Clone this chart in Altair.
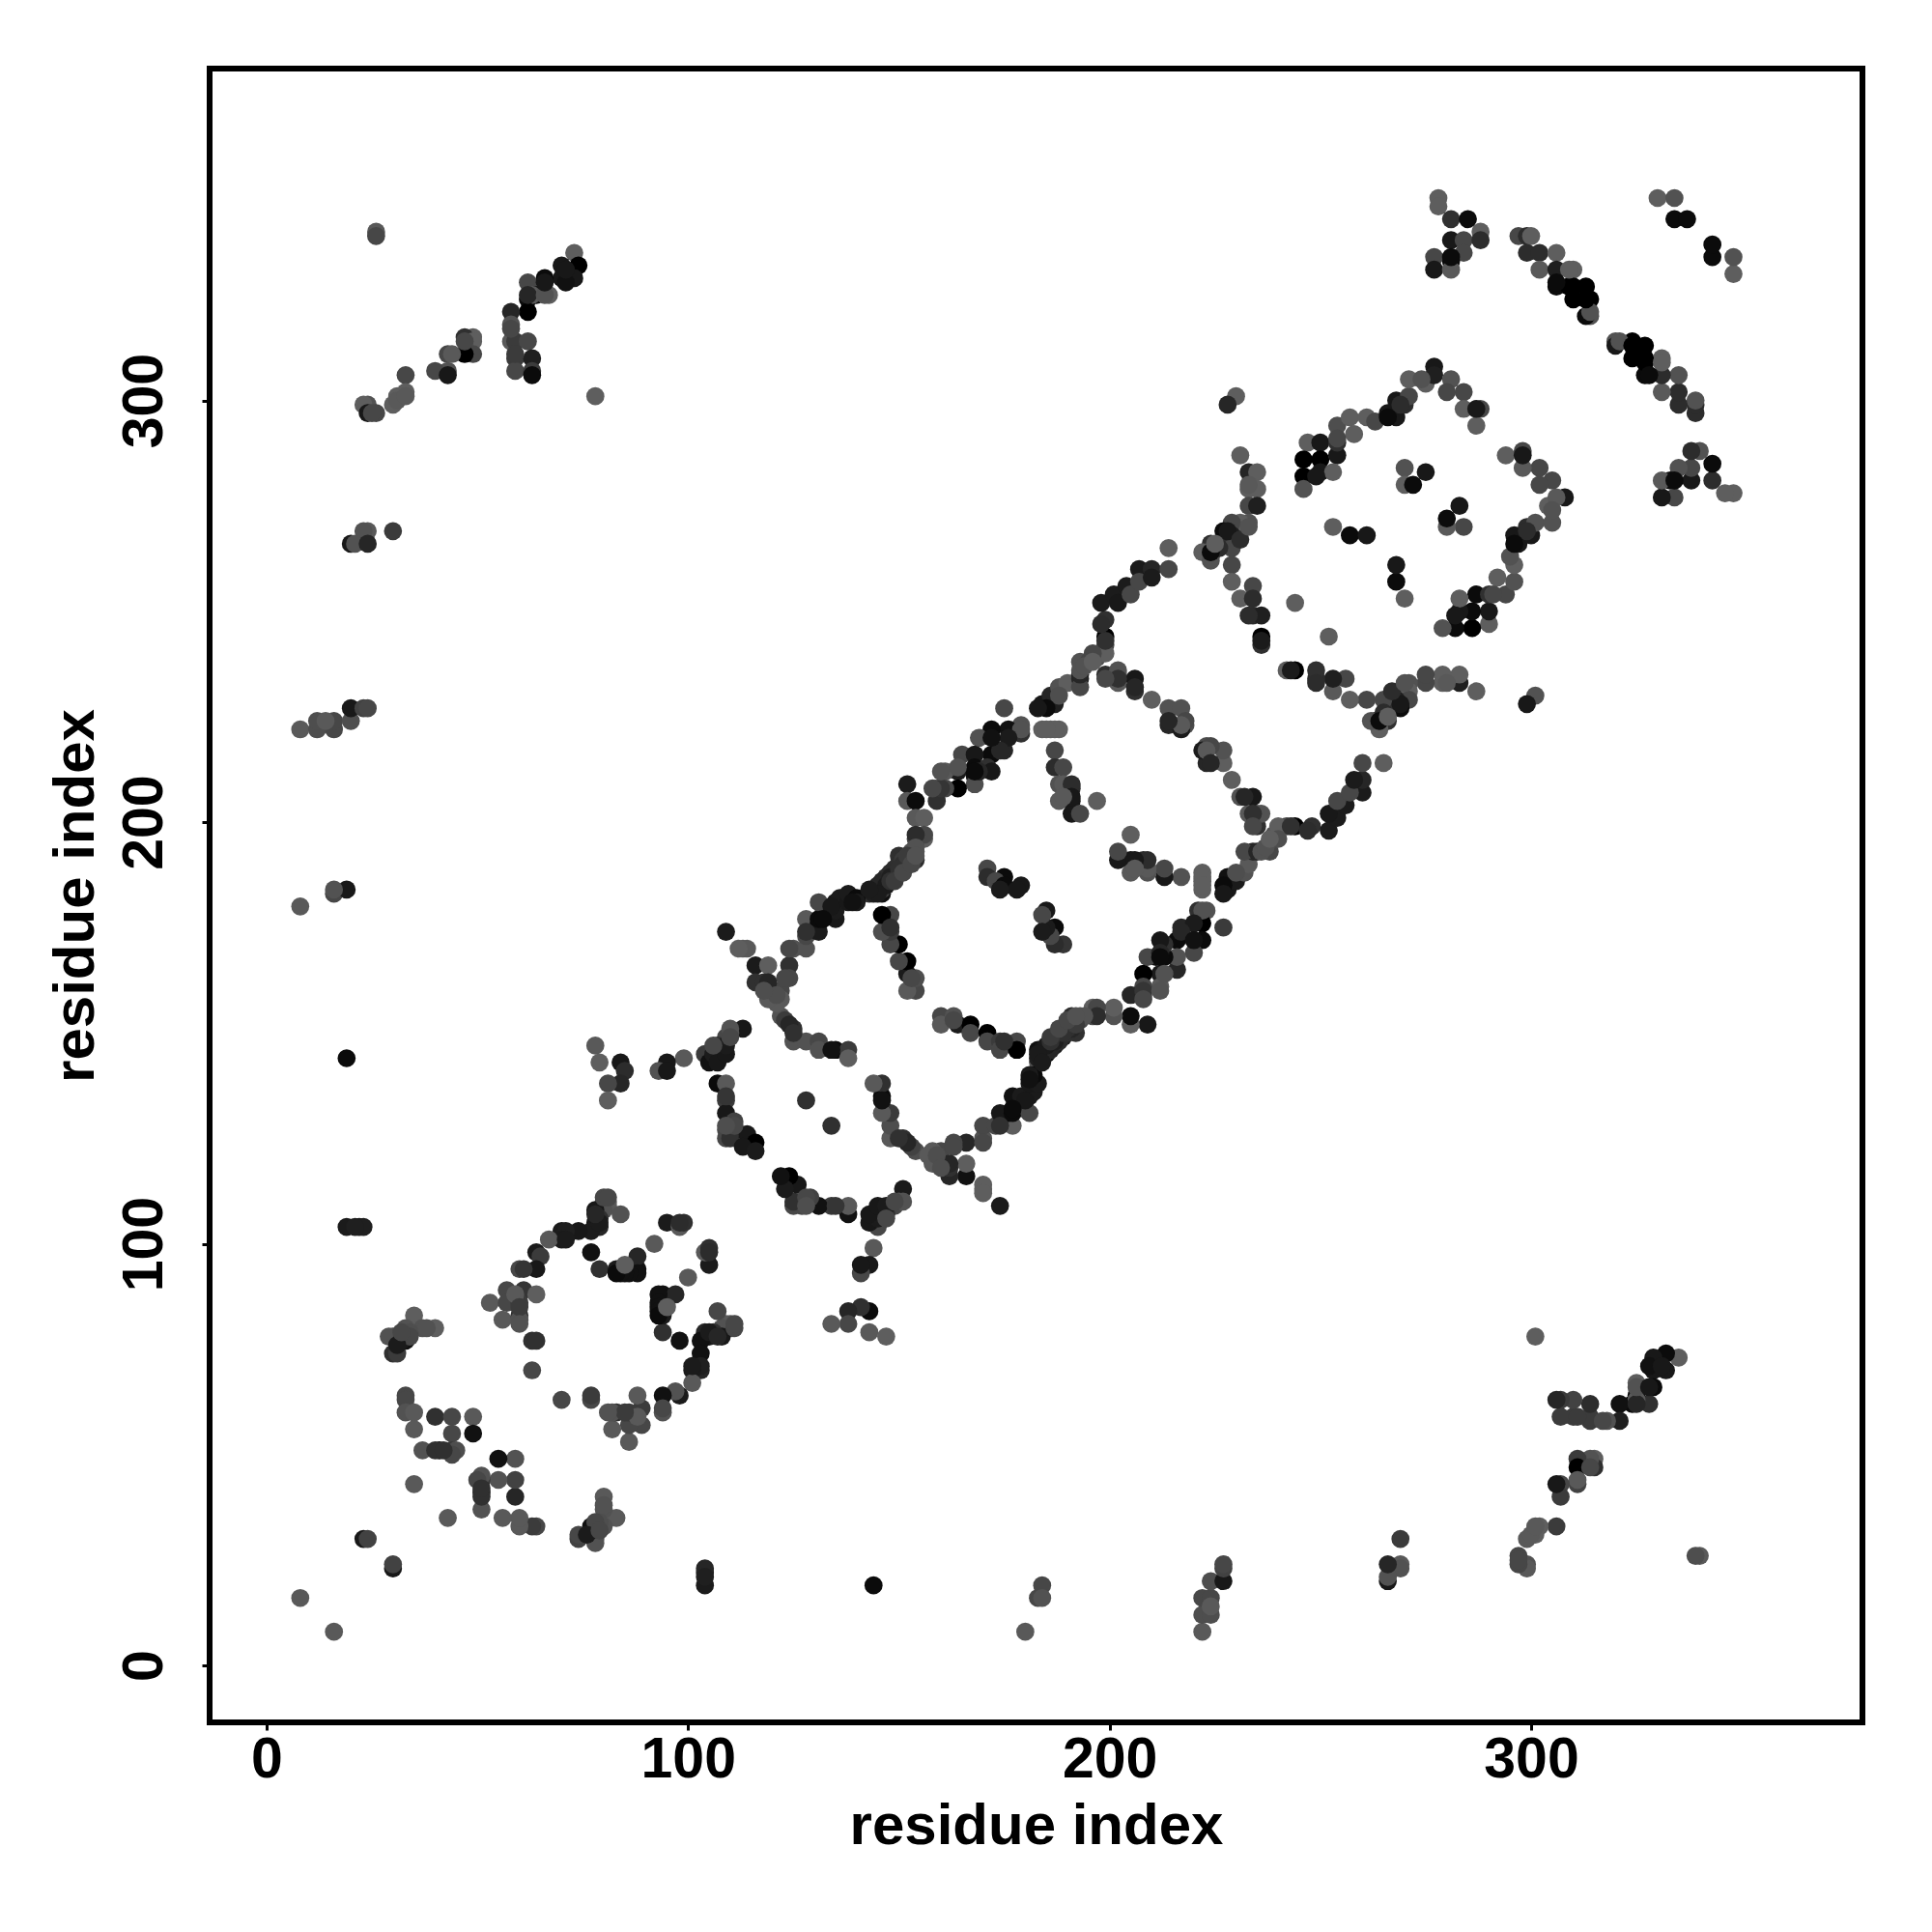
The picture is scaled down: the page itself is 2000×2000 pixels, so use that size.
import altair as alt
import pandas as pd

# Contact pairs: (residue i, residue j, grey level 0=black .. 0.4=mid grey)
ring_a = [(19,104,.1),(22,104,.1),(23,104,.12),(80,110,.38),(81,110,.38),(80,109,.38),(81,109,.38),(80,108,.35),(84,107,.35),
(78,108,.08),(78,105,.08),(79,106,.2),(79,104,.15),(77,103,.1),(74,103,.08),(70,103,.1),(71,103,.12),(70,101,.1),(67,101,.38),
(64,98,.1),(65,97,.25),(64,94,.08),(60,94,.3),(61,94,.22),(57,89,.3),(53,86,.38),(57,86,.3),(61,89,.22),(64,88,.4),(56,82,.38),(60,83,.2),(60,86,.25),(59,88,.38),(60,82,.35),
(63,77,.2),(64,77,.2),(63,70,.3),(77,98,.05),(79,94,.2),(83,94,.1),(84,94,.1),(85,94,.35),(86,94,.05),(87,94,.05),(88,94,.05),(88,97,.15),(92,100,.38),(95,105,.1),(98,104,.38),(99,105,.2),
(105,98,.18),(104,98,.38),(105,95,.1),(100,92,.38),(93,88,.05),(97,88,.15),(93,86,.05),(93,85,.05),(93,84,.05),(93,83,.03),(95,85,.4),(94,79,.2),(98,77,.05),
(107,84,.3),(111,80,.3),(111,81,.3),(109,81,.38),(108,80,.35),(105,79,.1),(103,77,.05),(107,78,.15),(103,74,.05),(101,71,.1),(103,70,.15),(101,67,.38),
(94,64,.05),(97,65,.35),(98,64,.1),(94,61,.3),(94,60,.35),(88,64,.38),(89,61,.25),(83,60,.2),(85,60,.25),(82,56,.38),(86,53,.38),(86,57,.3),(89,57,.3),(81,60,.35),
(77,64,.25),(77,63,.3),(70,63,.3),(35,83,.4),(40,80,.4),(37,80,.35),(33,80,.35),(30,78,.3),(33,77,.05),(30,74,.2),(29,78,.35),(32,77,.1),(31,74,.25),(34,79,.33),
(33,64,.3),(33,63,.3),(33,60,.35),(35,60,.38),(35,56,.38),(40,59,.2),(44,59,.3),(49,59,.38),(49,55,.05),(44,55,.3),(37,51,.35),(41,51,.03),(40,51,.2),(44,51,.25),(45,51,.33),(35,43,.38),
(55,49,.05),(59,49,.35),(51,45,.35),(50,44,.3),(55,44,.35),(59,44,.28),(51,41,.05),(51,42,.2),(59,40,.15),(51,37,.35),(43,35,.38),(56,35,.38),(60,35,.38),(60,33,.38),(63,33,.25),(64,33,.3),
(80,40,.38),(80,38,.35),(83,35,.38),(78,34,.3),(80,33,.35),(77,32,.05),(78,30,.3),(74,30,.28),(76,31,.1),(79,32,.3),(74,31,.3),
(23,30,.08),(24,30,.28),(30,24,.28),(30,23,.08),(8,16,.38),(104,23,.15),(104,21,.12),(104,19,.1)]

ring_b = [(109,174,.1),(113,170,.38),(114,170,.38),(116,166,.1),(119,166,.4),(116,162,.2),(118,162,.2),(124,166,.2),(124,163,.3),(122,160,.3),(120,158,.38),(122,158,.38),
(125,170,.35),(128,170,.35),(128,177,.38),(128,173,.3),(131,176,.03),(131,174,.1),(132,180,.3),(135,177,.08),(135,181,.08),(139,182,.1),(136,182,.1),(143,183,.2),(146,183,.05),(135,179,.1),
(122,154,.35),(123,153,.25),(125,151,.2),(124,152,.15),(125,148,.35),(128,148,.35),(131,148,.3),(131,146,.35),(135,146,.03),(138,146,.25),(138,144,.4),
(160,154,.3),(160,152,.38),(163,154,.35),(164,152,.1),(167,152,.0),(167,150,.3),(171,150,.0),(171,148,.3),(174,148,.25),(174,146,.3),(178,148,.3),(178,146,.0),
(146,178,.0),(148,178,.3),(148,175,.2),(146,174,.33),(150,171,.0),(152,167,.0),(150,167,.3),(154,163,.33),(152,160,.38),(154,160,.3),(153,163,.3),
(113,151,.08),(110,150,.35),(109,149,.3),(107,147,.2),(108,146,.15),(107,144,.08),(104,145,.25),(105,143,.05),(106,145,.1),(99,144,.38),(95,143,.08),(93,141,.35),(95,141,.08),
(78,147,.38),(79,143,.4),(84,143,.08),(85,141,.18),(84,138,.15),(81,138,.3),(81,134,.4),
(107,138,.03),(109,138,.38),(109,134,.25),(109,131,.08),(111,129,.28),(109,127,.3),(109,125,.3),(110,125,.2),(114,126,.08),(116,124,.0),(113,123,.08),(116,122,.1),
(128,134,.2),(134,128,.2),(144,138,.38),(146,138,.2),(146,134,.05),(148,131,.25),(146,131,.38),(148,128,.33),(148,125,.38),(150,125,.2),(152,124,.15),(154,122,.33),(153,123,.28),
(122,116,.05),(124,116,.0),(126,114,.08),(123,113,.1),(125,109,.3),(128,111,.3),(128,109,.33),(131,109,.05),(135,109,.22),(138,109,.38),(138,107,.05),
(143,107,.08),(145,109,.08),(147,109,.1),(151,113,.1),(151,110,.35),(149,110,.3),(147,106,.3),(145,104,.3),(143,105,.08),(144,99,.38),(141,95,.08),(143,95,.08),(141,93,.3),
(138,84,.15),(141,85,.2),(143,84,.03),(134,81,.38),(138,81,.3),(143,79,.38),(147,78,.4),
(157,121,.38),(158,119,.38),(163,123,.3),(166,119,.4),(162,116,.15),(166,116,.05),(162,119,.15),(159,121,.33),(160,118,.33),
(170,114,.4),(170,112,.4),(174,109,.1),(166,124,.15),(170,128,.3),(170,124,.3),(174,131,.08),(174,128,.2),(177,128,.4),(177,131,.03),(177,135,.05),(181,131,.3),(180,134,.08),(181,138,.08),(183,138,.1)]

ring_c = [(175,227,.3),(179,223,.35),(179,221,.2),(176,222,.05),(172,222,.03),(175,217,.15),(172,216,.03),(169,220,.35),(165,216,.3),(168,216,.08),(168,213,.03),(171,213,.2),(168,211,.05),(168,209,.33),
(164,212,.1),(164,208,.0),(161,212,.38),(159,208,.38),(161,208,.3),(159,205,.2),(152,209,.1),(152,205,.38),(154,205,.03),(154,201,.38),(156,201,.4),(156,196,.4),(154,196,.3),(154,193,.35),
(150,192,.2),(152,191,.3),(149,189,.2),(147,187,.2),(145,185,.15),(143,183,.2),(140,182,.03),(140,181,.1),(146,184,.25),(144,184,.2),(146,186,.15),(148,188,.18),(150,190,.2),(151,191,.25),(153,193,.35),
(171,189,.3),(171,187,.18),(175,187,.03),(173,186,.3),(175,185,.03),(179,185,.08),(178,184,.08),(185,179,.08),(184,178,.3),(185,175,.1),(187,175,.03),(184,174,.1),(187,171,.18),(189,171,.22),
(187,228,.12),(184,228,.08),(186,230,.15),(188,232,.35),(190,233,.4),(193,234,.15),(193,232,.3),(186,222,.4),(184,222,.4),(188,222,.4),(187,217,.3),(187,213,.18),(189,213,.3),(188,209,.35),(191,208,.18),(191,205,.08),(188,205,.38),(197,205,.4),(191,202,.08),(193,202,.3),
(193,238,.35),(197,239,.35),(199,235,.2),(202,235,.4),(202,233,.38),(206,234,.08),(206,231,.2),(210,229,.4),(214,227,.35),(217,227,.35),(214,223,.15),(218,223,.33),(217,222,.1),
(224,218,.3),(223,217,.38),(227,217,.35),(227,214,.4),(224,214,.15),(229,210,.4),(231,206,.35),(232,206,.15),(234,206,.08),(236,202,.35),(234,202,.2),(234,199,.3),(244,199,.0),(242,199,.3),(248,199,.2),(240,199,.4),
(238,195,.3),(240,196,.33),(235,193,.15),(232,193,.3),(238,193,.3),(233,190,.38),(230,188,.33),(228,187,.05),(227,185,.03),(230,186,.1),(227,183,.08),
(222,187,.4),(222,185,.4),(217,187,.35),(213,189,.3),(213,187,.08),(209,189,.38),(209,191,.18),(206,191,.08),(206,189,.38),(202,193,.3),(202,191,.08),(205,197,.4),
(222,179,.35),(220,176,.1),(222,176,.0),(217,174,.15),(220,172,.05),(222,172,.03),(216,172,.03),(212,172,.08),(212,169,.15),(216,168,.35),(209,168,.3),(212,168,.03),(208,164,.0),(213,164,.35),(216,165,.15),(220,169,.3),
(208,160,.22),(212,160,.35),(205,159,.15),(208,158,.3),(205,154,.03),(209,152,.08),(205,152,.4),(201,156,.4),(201,154,.35),(197,156,.3),(197,154,.18),(194,154,.35),(191,154,.18),(227,175,.25),
(190,151,.2),(188,150,.15),(187,148,.12),(185,147,.1),(184,146,.08),(183,144,.12),(183,143,.35),(183,145,.1),(186,148,.2),(189,150,.2),(192,152,.25),(193,153,.3),(181,139,.05),(177,132,.03),
(186,149,.25),(188,151,.3),(190,153,.3),(192,154,.35),(187,147,.1),(189,149,.12),(191,151,.15),(185,145,.05),(184,143,.1)]

band_d = [(198,252,.1),(199,243,.2),(196,240,.3),(193,236,.35),(201,254,.1),(204,256,.1),(207,260,.1),(210,260,.15),(214,265,.4),(214,260,.3),(202,252,.08),(205,254,.3),(207,257,.3),(210,258,.1),(198,247,.18),(194,237,.35),(196,238,.4)]

ring_e = [(230,301,.4),(228,299,.15),(231,287,.4),(233,283,.15),(235,283,.4),(233,279,.4),(235,279,.4),(233,275,.3),(235,275,.12),(233,271,.35),(231,271,.4),(229,271,.3),(227,269,.03),(229,268,.12),(227,266,.2),(229,265,.3),(224,266,.2),(224,263,.08),(222,264,.4),(224,262,.35),
(229,261,.3),(229,257,.4),(234,256,.3),(231,253,.4),(234,253,.18),(234,249,.18),(236,249,.12),(236,244,.0),(236,242,.2),(236,243,.1),(244,252,.4),(252,244,.4),
(247,290,.4),(250,290,.08),(246,286,.0),(250,286,.0),(254,287,.08),(254,294,.33),(257,296,.4),(258,292,.4),(254,290,.2),(246,282,.0),(250,283,.08),(253,283,.4),(246,279,.35),
(261,296,.4),(263,295,.3),(266,297,.08),(268,296,.08),(268,300,.08),(270,299,.18),(271,301,.3),(271,305,.4),(275,304,.4),(277,308,.08),(277,306,.12),(281,305,.35),(280,302,.3),(284,302,.3),(284,298,.4),(288,298,.3),(287,294,.4),
(270,284,.35),(275,283,.08),(270,280,.4),(272,280,.03),(283,275,.08),(280,272,.03),(280,270,.38),(284,270,.3),(253,270,.4),(257,268,.03),(261,268,.08),(268,261,.08),(268,257,.03),(270,253,.4),
(294,287,.4),(298,288,.3),(298,287,.08),(298,284,.38),(302,284,.3),(305,281,.3),(302,280,.3),(306,277,.38),(308,277,.08),(305,274,.35),(305,271,.35),(301,271,.35),(299,269,.18),(296,268,.08),(296,266,.03),(295,263,.35),(296,261,.4),(292,258,.4),(296,257,.35),(294,254,.3),(291,254,.3),(287,254,.03),(283,253,.4),(290,250,.08),(290,247,.4),(286,250,.03),(286,246,.0),(282,249,.08),(282,246,.03),(279,246,.35),
(242,236,.4),(244,236,.0),(249,236,.2),(249,233,.18),(253,234,.12),(256,234,.3),(253,231,.38),(257,229,.4),(261,229,.3),(265,229,.3),(269,228,.08),(267,231,.18),(270,233,.35),(265,226,.18),(262,224,.35),(264,224,.03),(266,225,.4),(271,233,.35),(275,235,.3),(275,233,.3),(279,235,.4),(280,233,.38),(283,235,.4),(283,233,.12),(287,231,.4),(301,230,.35),(299,228,.08)]

corner_nw = [(26,340,.38),(26,339,.3),(73,335,.4),(74,332,.0),(70,332,.08),(73,329,.08),(70,329,.08),(66,329,.03),(62,328,.3),(62,324,.03),(67,325,.4),(64,325,.03),(63,325,.38),(62,321,.0),(58,321,.15),(58,318,.35),(58,314,.38),(59,314,.25),(62,314,.3),(59,310,.25),(63,310,.12),(59,307,.3),(63,307,.25),(63,306,.03),
(49,315,.4),(47,315,.2),(49,314,.4),(49,311,.3),(47,311,.0),(43,311,.3),(44,311,.38),(43,307,.35),(40,307,.3),(43,306,.08),(33,306,.3),(33,302,.4),(31,301,.4),(30,299,.4),(31,300,.38),(24,299,.35),(23,299,.4),(24,297,.08),(26,297,.3),(78,301,.4),
(24,269,.38),(23,269,.35),(30,269,.25),(20,266,.08),(21,266,.35),(24,266,.15)]

corner_ne = [(278,348,.4),(278,346,.4),(281,343,.2),(285,343,.03),(281,338,.08),(284,338,.3),(288,340,.4),(288,338,.18),(284,335,.3),(281,333,.03),(277,334,.3),(277,331,.08),(281,331,.38),
(297,339,.3),(299,339,.18),(300,339,.4),(299,335,.18),(302,335,.18),(306,335,.4),(302,331,.38),(306,331,.12),(310,331,.4),(306,327,.03),(310,327,.0),(313,327,.0),(310,324,.0),(314,324,.0),(314,320,.35),(313,320,.03),
(320,313,.08),(321,314,.35),(324,313,.0),(327,313,.0),(324,310,.0),(327,309,.0),(331,309,.4),(328,306,.03),(331,306,.18),(335,306,.35),(331,302,.38),(335,302,.18),(335,299,.18),(339,300,.35),(339,297,.18),
(330,348,.4),(334,348,.35),(334,343,.03),(337,343,.03),(343,337,.03),(343,334,.03),(348,334,.35),(348,330,.4),
(340,288,.35),(338,288,.18),(335,284,.35),(343,285,.03),(343,281,.18),(338,284,.3),(338,281,.08),(334,281,.03),(331,281,.38),(331,277,.08),(334,277,.3),(346,278,.4),(348,278,.4)]

far_pairs = [(8,222,.38),(12,222,.33),(16,222,.3),(16,224,.3),(12,224,.33),(14,224,.38),(20,224,.33),(20,227,.08),(23,227,.28),(24,227,.3),(8,180,.38),(16,183,.3),(19,184,.08),(19,144,.03),
(184,19,.3),(184,16,.35),(180,8,.38),(306,63,.15),(310,63,.28),(307,59,.25),(311,59,.25),(314,62,.18),(314,58,.25),(317,58,.3),(321,58,.12),(321,62,.05),(325,62,.15),(325,66,.35),(328,62,.2),(328,66,.08),(328,71,.05),(331,71,.08),(332,74,.03),
(297,25,.3),(297,24,.3),(299,23,.38),(299,30,.38),(301,33,.38),(306,33,.25),(307,40,.25),(307,43,.3),(311,43,.28),(311,49,.25),(314,47,.3),(314,49,.35),(340,26,.38),(339,26,.33)]

regions = [ring_a, ring_b, ring_c, band_d, ring_e, corner_nw, corner_ne, far_pairs]

tick_values = [0, 100, 200, 300]
axis_title = "residue index"

contacts = {}
for region in regions:
    for i, j, g in region:
        contacts[(i, j)] = g
        contacts.setdefault((j, i), g)

df = pd.DataFrame([(i, j, g) for (i, j), g in contacts.items()], columns=["i", "j", "g"])
df["rank"] = range(len(df))

font = "Liberation Sans"

def axis(**kw):
    return alt.Axis(values=tick_values, title=axis_title, grid=False, domain=False, tickColor="black", tickWidth=3, tickSize=8,
                    labelFont=font, labelFontWeight="bold", labelFontSize=59, labelColor="black", labelFlush=False, labelOverlap=False,
                    titleFont=font, titleFontWeight="bold", titleFontSize=60, titleColor="black", **kw)

chart = (alt.Chart(df).mark_circle(size=350, opacity=1).encode(
    x=alt.X("i:Q", scale=alt.Scale(domain=[-13.5, 378.6], nice=False, zero=False), axis=axis(labelPadding=1, titlePadding=10)),
    y=alt.Y("j:Q", scale=alt.Scale(domain=[-13.5, 378.7], nice=False, zero=False), axis=axis(labelAngle=270, labelAlign="center", labelBaseline="bottom", labelPadding=30, titlePadding=11)),
    color=alt.Color("g:Q", scale=alt.Scale(domain=[0, 1], range=["#000000", "#ffffff"]), legend=None),
    order=alt.Order("rank:Q"),
).properties(width=1711, height=1712, background="white", autosize=alt.AutoSizeParams(type="none"),
             padding={"left": 209, "top": 63, "right": 60, "bottom": 200})
 .configure_view(stroke="black", strokeWidth=6, fill="white"))

chart.save("out.html", embed_options={"renderer": "svg", "actions": False})
